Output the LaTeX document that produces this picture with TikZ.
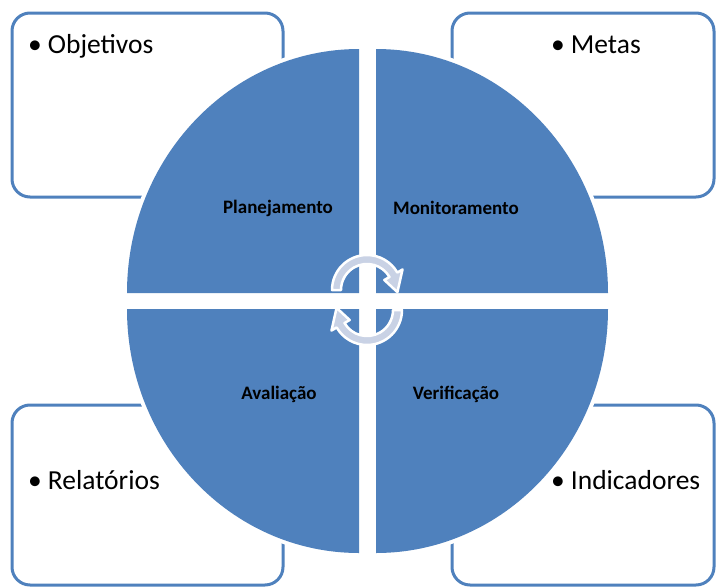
\documentclass[tikz,border=0pt]{standalone}
\usepackage{fontspec}
\setmainfont{Carlito}
\definecolor{qblue}{HTML}{4F81BD}
\definecolor{arrowfill}{HTML}{C9D2E5}
\begin{document}
\begin{tikzpicture}[x=1pt,y=1pt,
  box/.style={draw=qblue, line width=3pt, fill=white, rounded corners=18pt, inner sep=0pt},
  item/.style={anchor=base west, inner sep=0pt, font=\fontsize{27.5}{30}\selectfont},
  quad/.style={fill=qblue, draw=white, line width=8pt},
  qlabel/.style={font=\fontsize{19}{21}\selectfont\bfseries, text=black, inner sep=0pt},
  cyc/.style={fill=arrowfill, draw=white, line width=2.5pt, line join=round}]
\useasboundingbox (0,0) rectangle (716,-587);
% boxes
\node[box, minimum width=271pt, minimum height=184pt] (bobj) at (147.5,-105) {};
\node[box, minimum width=262pt, minimum height=184pt] (bmet) at (583,-105) {};
\node[box, minimum width=271pt, minimum height=180pt] (brel) at (147.5,-495) {};
\node[box, minimum width=262pt, minimum height=180pt] (bind) at (583,-495) {};
\node[item] (tobj) at (28,-53) {•\hspace{6pt}Objetivos};
\node[item] (tmet) at (551,-53) {•\hspace{6pt}Metas};
\node[item] (trel) at (28,-489) {•\hspace{6pt}Relatórios};
\node[item] (tind) at (551,-489) {•\hspace{6pt}Indicadores};
% quadrants
\path[quad] (359,-293) -- (127,-293) arc[start angle=180, end angle=90, x radius=232, y radius=244] -- cycle;
\path[quad] (376,-293) -- (608,-293) arc[start angle=0, end angle=90, x radius=232, y radius=244] -- cycle;
\path[quad] (359,-309) -- (127,-309) arc[start angle=180, end angle=270, x radius=232, y radius=244] -- cycle;
\path[quad] (376,-309) -- (608,-309) arc[start angle=0, end angle=-90, x radius=232, y radius=244] -- cycle;
\fill[qblue] (359,-293) -- (127,-293) arc[start angle=180, end angle=90, x radius=232, y radius=244] -- cycle;
\fill[qblue] (376,-293) -- (608,-293) arc[start angle=0, end angle=90, x radius=232, y radius=244] -- cycle;
\fill[qblue] (359,-309) -- (127,-309) arc[start angle=180, end angle=270, x radius=232, y radius=244] -- cycle;
\fill[qblue] (376,-309) -- (608,-309) arc[start angle=0, end angle=-90, x radius=232, y radius=244] -- cycle;
\node[qlabel] (lpla) at (278,-208) {Planejamento};
\node[qlabel] (lmon) at (456,-208) {Monitoramento};
\node[qlabel] (lava) at (279,-394) {Avaliação};
\node[qlabel] (lver) at (456,-394) {Verificação};
% cycle arrows
\coordinate (C1) at (367,-290);
\coordinate (C2) at (367,-310);
\path[cyc] ([shift={(180:35)}]C1) arc[start angle=180, end angle=30, radius=35]
  -- ([shift={(30:41)}]C1) -- ([shift={(-4:30.5)}]C1) -- ([shift={(30:20)}]C1)
  -- ([shift={(30:26)}]C1) arc[start angle=30, end angle=180, radius=26] -- cycle;
\path[cyc] ([shift={(0:35)}]C2) arc[start angle=0, end angle=-150, radius=35]
  -- ([shift={(-150:41)}]C2) -- ([shift={(-184:30.5)}]C2) -- ([shift={(-150:20)}]C2)
  -- ([shift={(-150:26)}]C2) arc[start angle=-150, end angle=0, radius=26] -- cycle;
\end{tikzpicture}
\end{document}
